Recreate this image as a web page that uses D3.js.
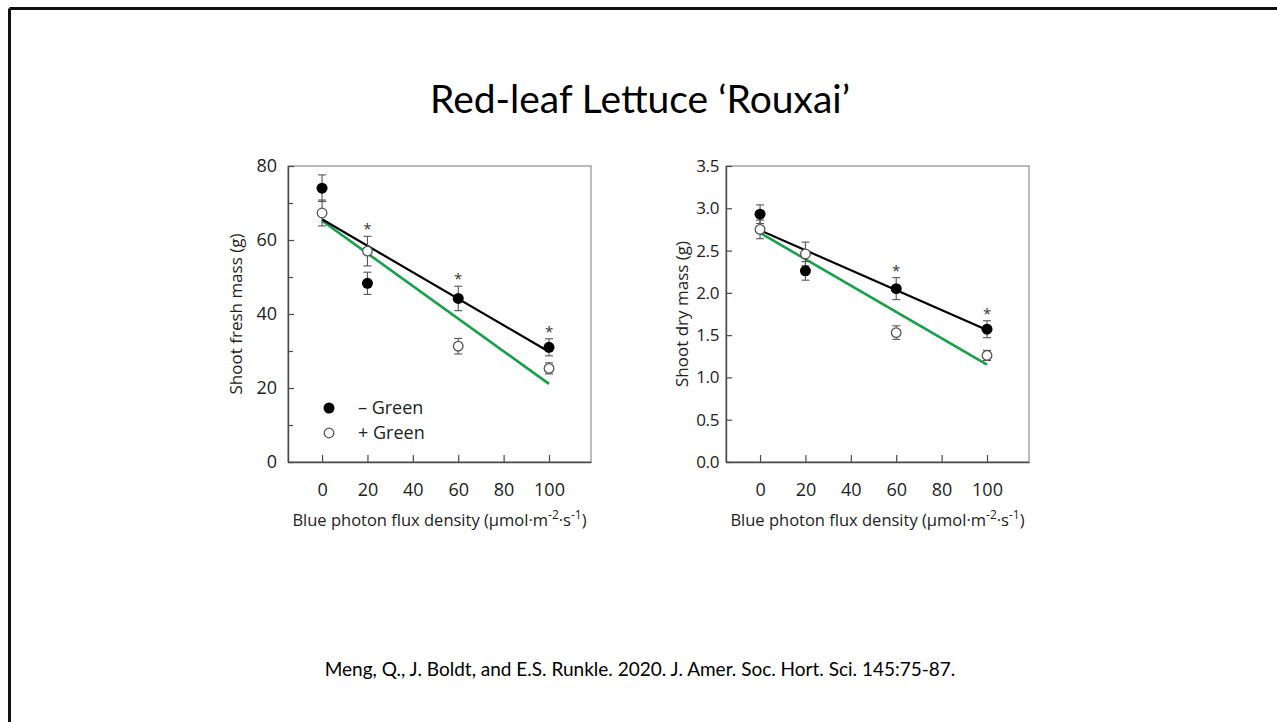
<!DOCTYPE html>
<html>
<head>
<meta charset="utf-8">
<script src="https://cdn.jsdelivr.net/npm/d3@7"></script>
<style>
  html, body { margin: 0; padding: 0; background: #fff; }
  svg { display: block; }
</style>
</head>
<body>
<svg id="chart" width="1277" height="722"></svg>
<script>
// ---- data ----
const bpfd = [0, 20, 60, 100];
const xTicks = [0, 20, 40, 60, 80, 100];

const freshMinus = [74.0, 48.3, 44.2, 31.0];
const freshMinusErr = [3.6, 3.0, 3.3, 2.3];
const freshPlus = [67.3, 57.0, 31.3, 25.3];
const freshPlusErr = [3.5, 4.0, 2.1, 1.5];
const freshFitMinus = [65.6, 29.8];
const freshFitPlus = [65.2, 21.1];
const freshSig = [20, 60, 100];
const freshYTicks = [0, 20, 40, 60, 80];
const freshYMinor = [10, 30, 50, 70];

const dryMinus = [2.93, 2.26, 2.05, 1.57];
const dryMinusErr = [0.11, 0.11, 0.13, 0.10];
const dryPlus = [2.75, 2.46, 1.53, 1.26];
const dryPlusErr = [0.11, 0.14, 0.08, 0.06];
const dryFitMinus = [2.74, 1.56];
const dryFitPlus = [2.71, 1.15];
const drySig = [60, 100];
const dryYTicks = [0, 0.5, 1.0, 1.5, 2.0, 2.5, 3.0, 3.5];
const dryYMinor = [];

const fitX = [0, 100];
const legendLabels = ["\u2013 Green", "+ Green"];
const titleText = "Red-leaf Lettuce \u2018Rouxai\u2019";
const citation = "Meng, Q., J. Boldt, and E.S. Runkle. 2020. J. Amer. Soc. Hort. Sci. 145:75-87.";

// ---- drawing ----
const svg = d3.select("#chart");
const FONT = '"Open Sans", "Noto Sans", sans-serif';
const AXC = "#4a4a4a";
const GREEN = "#17a04a";

// slide border (left & top visible)
svg.append("line").attr("x1", 9.5).attr("y1", 8.5).attr("x2", 1277).attr("y2", 8.5)
  .attr("stroke", "#111").attr("stroke-width", 3);
svg.append("line").attr("x1", 9.5).attr("y1", 8.5).attr("x2", 9.5).attr("y2", 722)
  .attr("stroke", "#111").attr("stroke-width", 3);

svg.append("text").attr("x", 640).attr("y", 113)
  .attr("text-anchor", "middle")
  .attr("font-family", "Lato, Carlito, sans-serif")
  .attr("font-size", 39)
  .attr("fill", "#000")
  .text(titleText);

svg.append("text").attr("x", 640).attr("y", 676)
  .attr("text-anchor", "middle")
  .attr("font-family", "Lato, Carlito, sans-serif")
  .attr("font-size", 19)
  .attr("fill", "#000")
  .text(citation);

function panel(opt) {
  const W = 303, H = 296;
  const g = svg.append("g").attr("transform", `translate(${opt.left},166)`);
  const x = d3.scaleLinear().domain([-15, 118.5]).range([0, W]);
  const y = d3.scaleLinear().domain(opt.yDomain).range([H, 0]);

  // frame
  g.append("rect").attr("x", 0).attr("y", 0).attr("width", W).attr("height", H)
    .attr("fill", "none").attr("stroke", "#777").attr("stroke-width", 1);

  // x axis (ticks inward)
  const xa = g.append("g").attr("transform", `translate(0,${H})`)
    .call(d3.axisBottom(x).tickValues(xTicks).tickSizeInner(-7).tickSizeOuter(0).tickPadding(21));
  xa.select(".domain").attr("stroke", AXC).attr("stroke-width", 1.4);
  xa.selectAll(".tick line").attr("stroke", AXC).attr("stroke-width", 1.2);
  xa.selectAll("text").attr("font-size", 18).attr("fill", "#222").attr("font-family", FONT);

  // y axis
  const ya = g.append("g")
    .call(d3.axisLeft(y).tickValues(opt.yTicks).tickFormat(opt.fmt).tickSizeInner(-6).tickSizeOuter(0).tickPadding(opt.pad));
  ya.select(".domain").attr("stroke", AXC).attr("stroke-width", 1.4);
  ya.selectAll(".tick line").attr("stroke", AXC).attr("stroke-width", 1.2);
  ya.selectAll("text").attr("font-size", opt.tickFs).attr("fill", "#222").attr("font-family", FONT)
    .attr("letter-spacing", opt.tickLs);
  if (opt.yMinor.length) {
    const ym = g.append("g")
      .call(d3.axisLeft(y).tickValues(opt.yMinor).tickFormat("").tickSizeInner(-5).tickSizeOuter(0));
    ym.select(".domain").remove();
    ym.selectAll(".tick line").attr("stroke", AXC).attr("stroke-width", 1.2);
  }

  // axis labels
  g.append("text")
    .attr("transform", `translate(${opt.ylabX},${H / 2}) rotate(-90)`)
    .attr("text-anchor", "middle").attr("font-family", FONT).attr("font-size", 17).attr("fill", "#222")
    .text(opt.yLabel);
  const xl = g.append("text").attr("x", W / 2).attr("y", H + 64)
    .attr("text-anchor", "middle").attr("font-family", FONT).attr("font-size", 16.5).attr("fill", "#222");
  xl.append("tspan").text("Blue photon flux density (\u03bcmol\u00b7m");
  xl.append("tspan").attr("dy", -7).attr("font-size", 12).text("-2");
  xl.append("tspan").attr("dy", 7).text("\u00b7s");
  xl.append("tspan").attr("dy", -7).attr("font-size", 12).text("-1");
  xl.append("tspan").attr("dy", 7).text(")");

  // fit lines
  const line = d3.line().x(d => x(d[0])).y(d => y(d[1]));
  g.append("path").datum(fitX.map((v, i) => [v, opt.fitPlus[i]]))
    .attr("d", line).attr("stroke", GREEN).attr("stroke-width", 2.6).attr("fill", "none");
  g.append("path").datum(fitX.map((v, i) => [v, opt.fitMinus[i]]))
    .attr("d", line).attr("stroke", "#000").attr("stroke-width", 2.2).attr("fill", "none");

  // error bars
  function errBars(vals, errs) {
    const eg = g.append("g").attr("stroke", "#555").attr("stroke-width", 1.1);
    bpfd.forEach((xv, i) => {
      const cx = x(xv), y1 = y(vals[i] + errs[i]), y2 = y(vals[i] - errs[i]);
      eg.append("line").attr("x1", cx).attr("x2", cx).attr("y1", y1).attr("y2", y2);
      eg.append("line").attr("x1", cx - 4).attr("x2", cx + 4).attr("y1", y1).attr("y2", y1);
      eg.append("line").attr("x1", cx - 4).attr("x2", cx + 4).attr("y1", y2).attr("y2", y2);
    });
  }
  errBars(opt.plus, opt.plusErr);
  errBars(opt.minus, opt.minusErr);

  // points
  g.selectAll(".pp").data(bpfd).enter().append("circle")
    .attr("cx", d => x(d)).attr("cy", (d, i) => y(opt.plus[i])).attr("r", 4.8)
    .attr("fill", "#fff").attr("stroke", "#555").attr("stroke-width", 1.3);
  g.selectAll(".pm").data(bpfd).enter().append("circle")
    .attr("cx", d => x(d)).attr("cy", (d, i) => y(opt.minus[i])).attr("r", 5.5)
    .attr("fill", "#000");

  // significance asterisks
  opt.sig.forEach(xv => {
    const i = bpfd.indexOf(xv);
    const top = Math.min(y(opt.minus[i] + opt.minusErr[i]), y(opt.plus[i] + opt.plusErr[i]));
    g.append("text").attr("x", x(xv)).attr("y", top - 2)
      .attr("text-anchor", "middle").attr("font-family", FONT).attr("font-size", 15).attr("fill", "#333")
      .text("*");
  });

  // legend
  if (opt.legend) {
    const lg = g.append("g");
    legendLabels.forEach((lab, i) => {
      const ly = 242 + i * 25;
      lg.append("circle").attr("cx", 41).attr("cy", ly).attr("r", i === 0 ? 5.5 : 4.8)
        .attr("fill", i === 0 ? "#000" : "#fff").attr("stroke", i === 0 ? "none" : "#555").attr("stroke-width", 1.3);
      lg.append("text").attr("x", 70).attr("y", ly + 6).attr("font-family", FONT)
        .attr("font-size", 18).attr("fill", "#222").text(lab);
    });
  }
}

panel({
  left: 288, yDomain: [0, 80], yTicks: freshYTicks, yMinor: freshYMinor, fmt: d3.format("d"), pad: 11,
  tickFs: 18, tickLs: 0,
  minus: freshMinus, minusErr: freshMinusErr, plus: freshPlus, plusErr: freshPlusErr,
  fitMinus: freshFitMinus, fitPlus: freshFitPlus, sig: freshSig,
  yLabel: "Shoot fresh mass (g)", ylabX: -46, legend: true
});
panel({
  left: 726, yDomain: [0, 3.5], yTicks: dryYTicks, yMinor: dryYMinor, fmt: d3.format(".1f"), pad: 7,
  tickFs: 17, tickLs: -0.4,
  minus: dryMinus, minusErr: dryMinusErr, plus: dryPlus, plusErr: dryPlusErr,
  fitMinus: dryFitMinus, fitPlus: dryFitPlus, sig: drySig,
  yLabel: "Shoot dry mass (g)", ylabX: -38, legend: false
});
</script>
</body>
</html>
